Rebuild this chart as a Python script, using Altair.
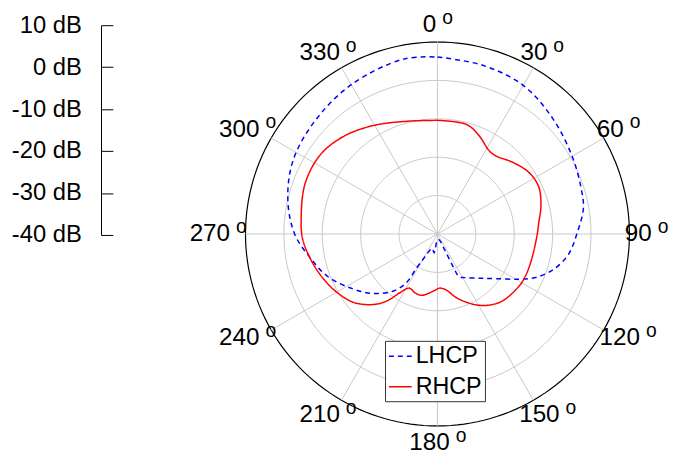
import altair as alt
import pandas as pd

# ---------------- data ----------------
db_ticks = [10, 0, -10, -20, -30, -40]
ring_db = [-30, -20, -10, 0, 10]
spoke_angles = [0, 30, 60, 90, 120, 150, 180, 210, 240, 270, 300, 330]

lhcp_angle = [0, 15, 30, 45, 60, 72, 80, 90, 99, 107, 114, 119, 127.5, 136.5, 148,
              153, 154.4, 155.5, 165, 180, 190, 200, 207, 209.5, 211.5, 212.5, 217.5,
              227, 236.5, 249, 260, 270, 283, 297, 312.5, 330, 349]
lhcp_db = [6.1, 5.5, 4.7, 2.5, 0.5, -0.7, -1.4, -3.7, -5.5, -8.4, -12.1, -15.7, -20.9, -24.1, -26.6,
           -27.5, -30.6, -35.5, -38.5, -38.5, -35.0, -36.0, -34.5, -32.5, -29.6, -25.0, -21.3,
           -17.3, -13.9, -9.3, -6.1, -2.8, 0.0, 2.2, 3.4, 4.9, 6.4]

rhcp_angle = [0, 15, 23, 32, 37, 46, 56, 65, 75, 84, 90, 105, 116, 123, 136, 144, 150.5, 157,
              163.5, 171, 177.5, 184, 194.5, 201, 207.5, 212.5, 217, 222, 230.5, 239.5, 248,
              257, 267.5, 276, 291, 304.5, 316.5, 329.5, 345]
rhcp_db = [-10.4, -10.5, -12.2, -14.5, -14.6, -13.0, -11.3, -10.9, -12.1, -13.5, -14.0, -14.6, -14.6,
           -14.8, -15.7, -17.1, -18.7, -20.7, -22.7, -25.2, -25.9, -25.1, -23.5, -23.6, -24.1, -21.9,
           -18.2, -15.3, -11.9, -9.8, -8.2, -6.6, -4.9, -4.3, -3.1, -3.2, -4.8, -7.2, -9.6]

series_names = ["LHCP", "RHCP"]

# ---------------- geometry ----------------
PPU = 3.88          # pixels per dB on the polar plot
W, H = 388, 405
YMAX = H / PPU - 50
NUM_FS = 24.5
DIG_W = 0.556 * NUM_FS


def curve(angles, dbs, name):
    n = len(angles)
    return pd.DataFrame({
        "angle": list(angles) + [angles[0]],
        "db": list(dbs) + [dbs[0]],
        "series": name,
        "order": list(range(n + 1)),
    })


lines_df = pd.concat([curve(lhcp_angle, lhcp_db, "LHCP"),
                      curve(rhcp_angle, rhcp_db, "RHCP")], ignore_index=True)

ring_rows = []
for d in ring_db:
    for a in range(0, 361, 2):
        ring_rows.append({"ring": d, "angle": a, "db": d})
rings_df = pd.DataFrame(ring_rows)

spokes_df = pd.DataFrame({"angle": spoke_angles})
labels_df = pd.DataFrame({"angle": spoke_angles, "txt": [str(a) for a in spoke_angles]})

to_xy = dict(
    x="(datum.db + 40) * sin(datum.angle * PI / 180)",
    y="(datum.db + 40) * cos(datum.angle * PI / 180)",
)

xs = alt.Scale(domain=[-50, 50], nice=False, zero=False)
ys = alt.Scale(domain=[-50, YMAX], nice=False, zero=False)
X = lambda f: alt.X(f, scale=xs, axis=None)
Y = lambda f: alt.Y(f, scale=ys, axis=None)

rings_inner = alt.Chart(rings_df).transform_filter("datum.ring < 10").transform_calculate(**to_xy).mark_line(
    color="#c8c8c8", strokeWidth=1).encode(
    x=X("x:Q"), y=Y("y:Q"), detail="ring:N", order="angle:Q")

ring_outer = alt.Chart(rings_df).transform_filter("datum.ring == 10").transform_calculate(**to_xy).mark_line(
    color="black", strokeWidth=1.2).encode(
    x=X("x:Q"), y=Y("y:Q"), order="angle:Q")

spokes = alt.Chart(spokes_df).transform_calculate(
    x0="0", y0="0",
    x1="50 * sin(datum.angle * PI / 180)",
    y1="50 * cos(datum.angle * PI / 180)",
).mark_rule(color="#c8c8c8", strokeWidth=1).encode(
    x=X("x0:Q"), y=Y("y0:Q"), x2="x1:Q", y2="y1:Q")

legend = alt.Legend(
    orient="none", legendX=141, legendY=319,
    symbolType="stroke", symbolSize=529, symbolStrokeWidth=1.5,
    labelFontSize=23.5, labelFont="Liberation Sans", labelColor="black",
    strokeColor="#333333", fillColor="white", padding=3, rowPadding=7,
    labelOffset=3, cornerRadius=0,
)

curves = alt.Chart(lines_df).transform_calculate(**to_xy).mark_line(
    strokeWidth=1.5, interpolate="catmull-rom").encode(
    x=X("x:Q"), y=Y("y:Q"),
    color=alt.Color("series:N", title=None,
                    scale=alt.Scale(domain=series_names, range=["#0000ff", "#ff0000"]),
                    legend=legend),
    strokeDash=alt.StrokeDash("series:N", title=None,
                              scale=alt.Scale(domain=series_names, range=[[5, 4], [1, 0]]),
                              legend=legend),
    order="order:Q",
)

label_calc = dict(
    nd="length(datum.txt)",
    xc="(211 + 11 * (length(datum.txt) - 2)) * sin(datum.angle * PI / 180)",
    yc="211 * cos(datum.angle * PI / 180)",
)

num_labels = alt.Chart(labels_df).transform_calculate(**label_calc).transform_calculate(
    half="(%f * datum.nd + 16) / 2" % DIG_W,
).transform_calculate(
    nx="(datum.xc + datum.half - 16) / " + str(PPU),
    ny="datum.yc / " + str(PPU),
).mark_text(align="right", baseline="middle", fontSize=NUM_FS, font="Liberation Sans", color="black").encode(
    x=X("nx:Q"), y=Y("ny:Q"), text="txt:N")

deg_labels = alt.Chart(labels_df).transform_calculate(**label_calc).transform_calculate(
    half="(%f * datum.nd + 16) / 2" % DIG_W,
).transform_calculate(
    ox="(datum.xc + datum.half - 10) / " + str(PPU),
    oy="(datum.yc + 7.2) / " + str(PPU),
).mark_text(align="left", baseline="middle", fontSize=19.5, font="Liberation Sans", color="black").encode(
    x=X("ox:Q"), y=Y("oy:Q"), text=alt.value("o"))

polar = alt.layer(rings_inner, ring_outer, spokes, curves, num_labels, deg_labels).properties(
    width=W, height=H)

axis_df = pd.DataFrame({"db": db_ticks})
left = alt.Chart(axis_df).mark_point(opacity=0).encode(
    y=alt.Y("db:Q", title=None, scale=alt.Scale(domain=[-40, 10], nice=False),
            axis=alt.Axis(values=db_ticks, labelExpr="datum.value + ' dB'", ticks=False, tickSize=0,
                          grid=True, gridColor="black", gridOpacity=1, gridWidth=1,
                          domainColor="black", domainWidth=1, labelPadding=20,
                          labelFontSize=24, labelFont="Liberation Sans", labelColor="black"))
).properties(width=12, height=212)

chart = alt.hconcat(left, polar, spacing=134, bounds="flush").resolve_legend(
    color="independent", strokeDash="independent"
).properties(
    padding={"left": 3, "top": -3, "right": 0, "bottom": 0}
).configure(font="Liberation Sans").configure_view(strokeWidth=0, stroke="transparent")

chart.save("out.html", embed_options={"renderer": "svg", "actions": False})
